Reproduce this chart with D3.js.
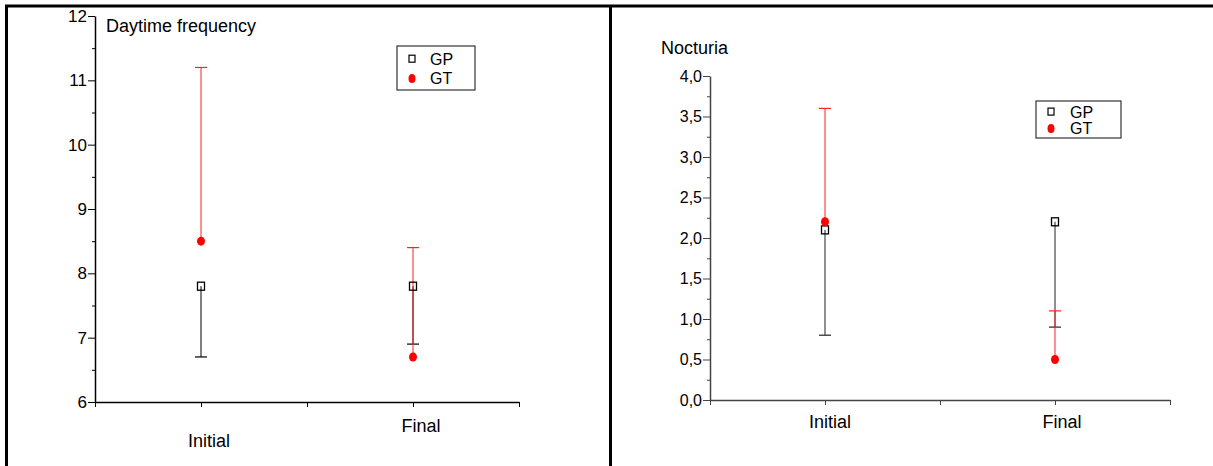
<!DOCTYPE html>
<html>
<head>
<meta charset="utf-8">
<script src="https://cdn.jsdelivr.net/npm/d3@7"></script>
<style>
  body { margin: 0; background: #fff; }
  text { font-family: "Liberation Sans", Arial, sans-serif; }
</style>
</head>
<body>
<div id="chart"></div>
<script>
// categories on the x axis
const categories = ['Initial', 'Final'];

// Daytime frequency: GP mean and lower bar end, GT mean and upper bar end
const dayGP = [7.8, 7.8];
const dayGPLow = [6.7, 6.9];
const dayGT = [8.5, 6.7];
const dayGTHigh = [11.2, 8.4];
const dayTicks = [6, 7, 8, 9, 10, 11, 12];

// Nocturia
const nocGP = [2.1, 2.2];
const nocGPLow = [0.8, 0.9];
const nocGT = [2.2, 0.5];
const nocGTHigh = [3.6, 1.1];
const nocTicks = [0, 0.5, 1, 1.5, 2, 2.5, 3, 3.5, 4];

const seriesNames = ['GP', 'GT'];

const W = 1213, H = 466;
const svg = d3.select('#chart').append('svg')
  .attr('width', W)
  .attr('height', H);

// frame lines round the two panels
svg.append('line').attr('x1', 5).attr('x2', W).attr('y1', 6).attr('y2', 6)
  .attr('stroke', '#000').attr('stroke-width', 3);
svg.append('line').attr('x1', 6.5).attr('x2', 6.5).attr('y1', 5).attr('y2', H)
  .attr('stroke', '#000').attr('stroke-width', 3);
svg.append('line').attr('x1', 610.5).attr('x2', 610.5).attr('y1', 5).attr('y2', H)
  .attr('stroke', '#000').attr('stroke-width', 3);

function drawPanel(cfg) {
  const g = svg.append('g');

  const x = d3.scaleLinear().domain([0, 4]).range(cfg.xRange);
  const y = d3.scaleLinear().domain(cfg.yDomain).range(cfg.yRange);
  const catX = i => x(i * 2 + 1);

  // x axis, ticks only (labels placed by hand below)
  const xAxis = d3.axisBottom(x)
    .tickValues([0, 1, 2, 3, 4])
    .tickFormat('')
    .tickSizeInner(5)
    .tickSizeOuter(0);
  const $x = g.append('g')
    .attr('transform', `translate(0, ${cfg.yRange[0]})`)
    .call(xAxis);
  $x.select('.domain').attr('stroke', cfg.axisColor).attr('stroke-width', 1.5);
  $x.selectAll('.tick line').attr('stroke', cfg.axisColor);

  // minor y ticks
  const minorAxis = d3.axisLeft(y)
    .tickValues(cfg.minorTicks)
    .tickFormat('')
    .tickSizeInner(3)
    .tickSizeOuter(0);
  const $ym = g.append('g')
    .attr('transform', `translate(${cfg.xRange[0]}, 0)`)
    .call(minorAxis);
  $ym.select('.domain').remove();
  $ym.selectAll('.tick line').attr('stroke', cfg.axisColor);

  // major y ticks with labels
  const yAxis = d3.axisLeft(y)
    .tickValues(cfg.yTicks)
    .tickFormat(cfg.fmt)
    .tickSizeInner(7)
    .tickSizeOuter(0)
    .tickPadding(1);
  const $y = g.append('g')
    .attr('transform', `translate(${cfg.xRange[0]}, 0)`)
    .call(yAxis);
  $y.select('.domain').attr('stroke', cfg.axisColor).attr('stroke-width', 1.5);
  $y.selectAll('.tick line').attr('stroke', cfg.axisColor);
  $y.selectAll('.tick text')
    .attr('font-size', cfg.yFont)
    .attr('fill', '#000')
    .attr('font-family', '"Liberation Sans", Arial, sans-serif');

  // category labels
  categories.forEach((c, i) => {
    g.append('text')
      .attr('x', catX(i) + cfg.labelDx[i])
      .attr('y', cfg.labelY[i])
      .attr('text-anchor', 'middle')
      .attr('font-size', 18)
      .text(c);
  });

  // title
  g.append('text')
    .attr('x', cfg.titlePos[0])
    .attr('y', cfg.titlePos[1])
    .attr('font-size', 18)
    .text(cfg.title);

  const cap = 6;
  // GP bars (downwards)
  cfg.gp.forEach((v, i) => {
    const cx = catX(i);
    g.append('line').attr('x1', cx).attr('x2', cx)
      .attr('y1', y(v)).attr('y2', y(cfg.gpLow[i]))
      .attr('stroke', cfg.gpLine).attr('stroke-width', 1);
    g.append('line').attr('x1', cx - cap).attr('x2', cx + cap)
      .attr('y1', y(cfg.gpLow[i])).attr('y2', y(cfg.gpLow[i]))
      .attr('stroke', cfg.gpLine).attr('stroke-width', 1.2);
  });
  // GT bars (upwards)
  cfg.gt.forEach((v, i) => {
    const cx = catX(i);
    g.append('line').attr('x1', cx).attr('x2', cx)
      .attr('y1', y(v)).attr('y2', y(cfg.gtHigh[i]))
      .attr('stroke', '#f22').attr('stroke-width', 1);
    g.append('line').attr('x1', cx - cap).attr('x2', cx + cap)
      .attr('y1', y(cfg.gtHigh[i])).attr('y2', y(cfg.gtHigh[i]))
      .attr('stroke', '#f22').attr('stroke-width', 1.2);
  });
  // markers
  cfg.gp.forEach((v, i) => {
    g.append('rect')
      .attr('x', catX(i) - 3.5).attr('y', y(v) - 4)
      .attr('width', 7).attr('height', 8)
      .attr('fill', 'none').attr('stroke', '#000').attr('stroke-width', 1.3);
  });
  cfg.gt.forEach((v, i) => {
    g.append('ellipse')
      .attr('cx', catX(i)).attr('cy', y(v))
      .attr('rx', 4).attr('ry', 4.5)
      .attr('fill', '#f00');
  });

  // legend
  const [lx, ly, lw, lh] = cfg.legend;
  const leg = g.append('g').attr('transform', `translate(${lx}, ${ly})`);
  leg.append('rect').attr('width', lw).attr('height', lh)
    .attr('fill', '#fff').attr('stroke', '#333').attr('stroke-width', 1.2);
  const rowY = [lh * 0.3, lh * 0.74];
  leg.append('rect').attr('x', 12).attr('y', rowY[0] - 4)
    .attr('width', 6).attr('height', 7)
    .attr('fill', 'none').attr('stroke', '#000').attr('stroke-width', 1.2);
  leg.append('ellipse').attr('cx', 15).attr('cy', rowY[1])
    .attr('rx', 3.5).attr('ry', 4.5).attr('fill', '#f00');
  seriesNames.forEach((s, i) => {
    leg.append('text')
      .attr('x', cfg.legendTextX)
      .attr('y', rowY[i])
      .attr('dy', '0.36em')
      .attr('font-size', 16)
      .text(s);
  });
}

drawPanel({
  title: 'Daytime frequency',
  titlePos: [106, 32],
  xRange: [95, 519],
  yDomain: [6, 12],
  yRange: [402, 16],
  yTicks: dayTicks,
  minorTicks: d3.range(6.5, 12, 1),
  fmt: d3.format('d'),
  yFont: 17,
  axisColor: '#000',
  gpLine: '#000',
  labelDx: [8, 8],
  labelY: [447, 432],
  gp: dayGP, gpLow: dayGPLow, gt: dayGT, gtHigh: dayGTHigh,
  legend: [397, 46, 78, 44],
  legendTextX: 33
});

drawPanel({
  title: 'Nocturia',
  titlePos: [661, 54],
  xRange: [710, 1170],
  yDomain: [0, 4],
  yRange: [400, 76],
  yTicks: nocTicks,
  minorTicks: d3.range(0.25, 4, 0.5),
  fmt: d => d3.format('.1f')(d).replace('.', ','),
  yFont: 16,
  axisColor: '#444',
  gpLine: '#222',
  labelDx: [5, 7],
  labelY: [428, 428],
  gp: nocGP, gpLow: nocGPLow, gt: nocGT, gtHigh: nocGTHigh,
  legend: [1036, 101, 85, 37],
  legendTextX: 34
});
</script>
</body>
</html>
